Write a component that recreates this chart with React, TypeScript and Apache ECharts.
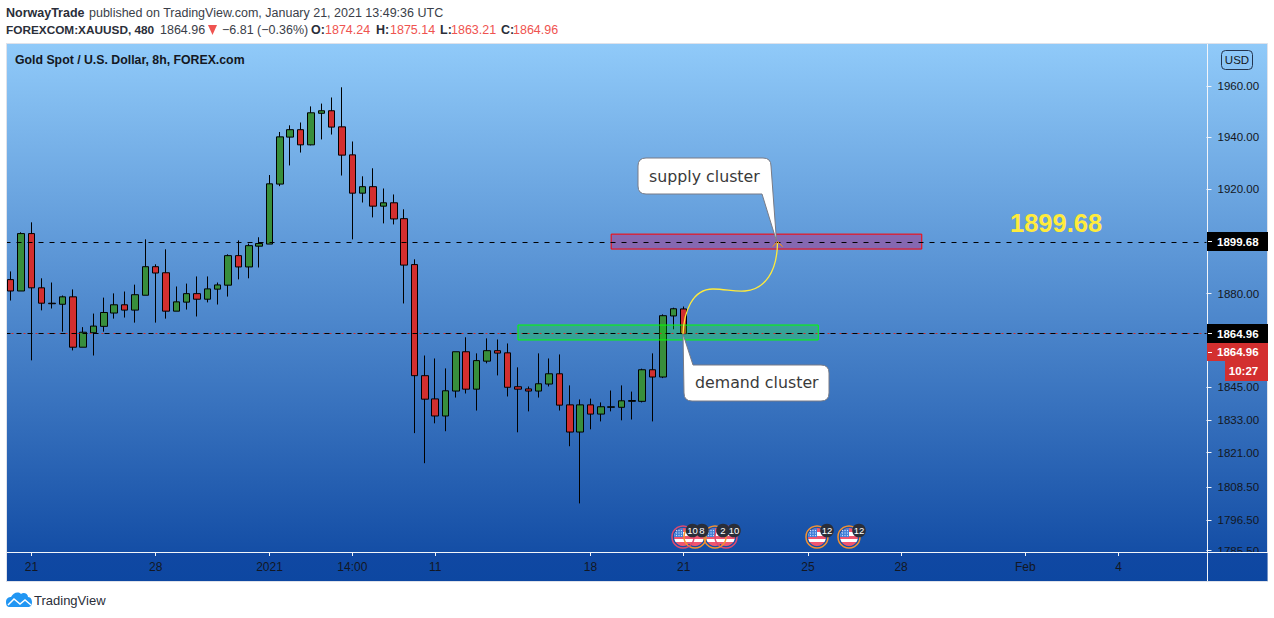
import React, { useEffect, useRef } from "react";
import * as echarts from "echarts";

// ---- series values ----
const opens = [1885.3,1881.0,1902.8,1882.2,1876.4,1876.0,1878.8,1859.9,1865.3,1867.7,1872.7,1875.8,1873.8,1879.4,1890.2,1887.9,1873.4,1876.8,1880.0,1877.9,1881.7,1883.2,1894.4,1890.1,1898.0,1898.8,1921.8,1940.0,1942.9,1937.0,1949.3,1950.3,1944.0,1933.1,1918.3,1920.8,1913.3,1914.6,1908.5,1891.0,1849.3,1840.7,1834.4,1843.6,1858.2,1844.3,1854.7,1858.6,1857.8,1845.2,1844.4,1843.6,1846.2,1850.0,1838.5,1828.5,1838.5,1835.1,1837.6,1837.6,1839.8,1839.8,1851.5,1848.8,1871.6,1874.24];
const closes = [1881.0,1902.8,1882.2,1876.4,1876.2,1878.8,1859.9,1865.5,1867.8,1872.9,1875.8,1873.8,1879.6,1890.2,1887.8,1873.4,1876.9,1880.0,1877.9,1881.8,1883.3,1894.4,1890.1,1898.2,1899.0,1921.9,1940.1,1942.9,1937.0,1949.5,1950.3,1943.9,1933.0,1918.3,1920.8,1913.3,1914.6,1908.4,1890.8,1849.3,1840.6,1834.4,1843.7,1858.2,1844.3,1854.9,1858.6,1857.7,1845.0,1844.3,1843.6,1846.3,1850.0,1838.4,1828.5,1838.5,1835.1,1837.8,1837.8,1840.0,1840.1,1851.5,1848.8,1871.7,1874.3,1864.96];
const lows = [1877.4,1881.0,1855.0,1873.7,1874.4,1865.7,1858.7,1859.9,1856.8,1865.7,1870.6,1871.0,1869.1,1879.4,1869.1,1870.6,1873.4,1874.0,1871.4,1876.7,1875.9,1878.9,1885.4,1885.8,1889.9,1898.8,1921.0,1929.0,1934.0,1936.8,1939.1,1941.0,1925.1,1900.6,1914.7,1909.0,1906.7,1906.3,1876.3,1828.1,1817.1,1831.7,1828.8,1841.2,1842.7,1836.4,1853.9,1849.4,1841.6,1828.4,1836.1,1841.2,1845.3,1836.4,1823.3,1802.5,1829.5,1832.4,1836.1,1832.8,1833.1,1839.4,1832.4,1848.4,1866.6,1863.21];
const highs = [1888.4,1903.3,1907.1,1885.8,1884.2,1879.3,1881.6,1867.4,1872.5,1878.5,1880.1,1880.8,1883.4,1900.6,1891.1,1896.8,1882.7,1883.8,1886.5,1886.5,1884.2,1894.9,1900.2,1899.0,1901.4,1925.3,1942.0,1944.6,1945.7,1952.0,1953.1,1955.5,1959.5,1938.3,1924.8,1927.9,1920.1,1917.8,1912.1,1893.0,1856.8,1855.7,1852.0,1858.2,1863.6,1857.6,1863.2,1862.8,1861.3,1852.4,1845.3,1857.6,1855.7,1857.2,1845.7,1840.5,1840.8,1839.4,1843.8,1845.7,1843.4,1851.9,1857.6,1872.2,1874.7,1875.14];

const timeTickIndexes = [2, 14, 25, 33, 41, 56, 65, 77, 86, 98, 107];
const timeTickLabels = ["21", "28", "2021", "14:00", "11", "18", "21", "25", "28", "Feb", "4"];
const priceTicks = [1960, 1940, 1920, 1880, 1845, 1833, 1821, 1808.5, 1796.5, 1785.5];
const priceMin = 1785.0;
const priceMax = 1976.6;
const supplyZone = { from: 58, to: 88, top: 1902.6, bottom: 1896.9 };
const demandZone = { from: 49, to: 78, top: 1868.2, bottom: 1862.6 };
const keyLevel = 1899.68;
const lastPrice = 1864.96;

const eventMarks = [
  { x: 695, ring: "#f5922f", badge: "8", badgeX: 702 },
  { x: 683, ring: "#e04a6e", badge: "10", badgeX: 692.5 },
  { x: 726, ring: "#e04a6e", badge: "10", badgeX: 734 },
  { x: 715, ring: "#f5922f", badge: "2", badgeX: 723 },
  { x: 817, ring: "#f5922f", badge: "12", badgeX: 827 },
  { x: 849, ring: "#f5922f", badge: "12", badgeX: 859 },
];

const FONT = '"Liberation Sans", Arial, sans-serif';
const WIDE = '"DejaVu Sans", Verdana, sans-serif';
const DARK = "#131722";
const RED = "#D32F2F";

const CURVE = "M683 334 C684 312 692 289 713 289 C725 289 735 292 745 291 C765 289 777 272 777.5 243";
const SUPPLY_CALLOUT = "M646 158 H763 Q771 158 771 166 L776.5 241 L762 194 H646 Q638 194 638 186 V166 Q638 158 646 158 Z";
const DEMAND_CALLOUT = "M693 365 H821 Q829 365 829 373 V393 Q829 401 821 401 H692 Q684 401 684 393 L683 334 Z";
const CLOUD = "M6 602 C6 598 9 597 11 597 C13 593 18 591 21 594 C23 592 28 593 28 597 C31 597 32 600 32 602 C32 606 30 607 28 607 H10 C7 607 6 605 6 602 Z";

echarts.graphic.registerShape("rsCurve", echarts.graphic.extendPath(CURVE, {}));
echarts.graphic.registerShape("rsSupply", echarts.graphic.extendPath(SUPPLY_CALLOUT, {}));
echarts.graphic.registerShape("rsDemand", echarts.graphic.extendPath(DEMAND_CALLOUT, {}));
echarts.graphic.registerShape("rsCloud", echarts.graphic.extendPath(CLOUD, {}));

function txt(x: number, y: number, text: string, font: string, fill: string, z: number, align = "left", family = FONT) {
  return {
    type: "text", x, y, z, silent: true,
    style: { text, fill, font: `${font} ${family}`, textAlign: align, textVerticalAlign: "middle" },
  };
}
function rect(x: number, y: number, w: number, h: number, fill: any, z: number, extra: any = {}) {
  return { type: "rect", z, silent: true, shape: { x, y, width: w, height: h, ...(extra.shape || {}) }, style: { fill, ...(extra.style || {}) } };
}
function hline(x1: number, x2: number, y: number, stroke: string, z: number, lineWidth = 1) {
  return { type: "line", z, silent: true, shape: { x1, y1: y, x2, y2: y }, style: { stroke, lineWidth } };
}

function buildGraphics() {
  const bg = new echarts.graphic.LinearGradient(0, 0, 0, 1, [
    { offset: 0, color: "#90CAF9" },
    { offset: 1, color: "#0D47A1" },
  ]);
  const band = new echarts.graphic.LinearGradient(0, 0, 0, 1, [
    { offset: 0, color: "#1048A3" },
    { offset: 1, color: "#0D47A1" },
  ]);
  const els: any[] = [
    rect(6.5, 43.5, 1261, 538, bg, -10, { style: { stroke: "#dfe2ea", lineWidth: 1 } }),
    rect(7, 552, 1260.5, 29, band, 10),
    rect(0, 44, 6, 540, "#ffffff", 30),
    { type: "line", z: 31, silent: true, shape: { x1: 6.5, y1: 43, x2: 6.5, y2: 582 }, style: { stroke: "#dfe2ea", lineWidth: 1 } },
    hline(7, 1268, 552.5, "#f2f5fa", 11),
    { type: "line", z: 11, silent: true, shape: { x1: 1207.5, y1: 44, x2: 1207.5, y2: 581 }, style: { stroke: "#f2f5fa", lineWidth: 1 } },
    rect(1221.5, 50.5, 31, 19, "transparent", 12, { shape: { r: 4 }, style: { stroke: "#22344f", lineWidth: 1 } }),
    txt(1237, 60, "USD", "11.5px", DARK, 13, "center"),
    txt(6, 13, "NorwayTrade", "bold 12.5px", "#2a2e39", 5),
    txt(89, 13, "published on TradingView.com, January 21, 2021 13:49:36 UTC", "12.5px", "#3a3e49", 5),
    txt(6, 30, "FOREXCOM:XAUUSD, 480", "bold 11.8px", "#2a2e39", 5),
    txt(160, 30, "1864.96", "12.5px", "#3a3e49", 5),
    { type: "polygon", z: 5, silent: true, shape: { points: [[208, 25], [217, 25], [212.5, 35]] }, style: { fill: "#ef5350" } },
    txt(222, 30, "−6.81 (−0.36%)", "12.5px", "#3a3e49", 5),
    txt(311, 30, "O:", "bold 12.5px", "#2a2e39", 5),
    txt(325, 30, "1874.24", "12.5px", "#ef5350", 5),
    txt(376, 30, "H:", "bold 12.5px", "#2a2e39", 5),
    txt(390, 30, "1875.14", "12.5px", "#ef5350", 5),
    txt(440, 30, "L:", "bold 12.5px", "#2a2e39", 5),
    txt(451, 30, "1863.21", "12.5px", "#ef5350", 5),
    txt(501, 30, "C:", "bold 12.5px", "#2a2e39", 5),
    txt(513, 30, "1864.96", "12.5px", "#ef5350", 5),
    txt(15, 60, "Gold Spot / U.S. Dollar, 8h, FOREX.com", "bold 12.3px", DARK, 12),
    txt(1010, 223, "1899.68", "bold 25.5px", "#FFEB3B", 12),
    // price tags
    rect(1207, 232, 61, 19, "#000000", 15),
    hline(1208, 1212, 241.5, "#ffffff", 16),
    txt(1217, 241.5, "1899.68", "bold 11.5px", "#ffffff", 16),
    rect(1207, 324, 61, 19, "#000000", 15),
    hline(1208, 1212, 333.5, "#ffffff", 16),
    txt(1217, 333.5, "1864.96", "bold 11.5px", "#ffffff", 16),
    rect(1207, 343, 61, 18, RED, 15),
    hline(1208, 1212, 352.5, "#ffffff", 16),
    txt(1217, 352, "1864.96", "bold 11.5px", "#ffffff", 16),
    rect(1225, 361, 43, 20, RED, 15),
    txt(1243.5, 371, "10:27", "bold 11.5px", "#ffffff", 16, "center"),
    // annotations
    { type: "rsCurve", z: 20, silent: true, style: { fill: "none", stroke: "#FFEB3B", lineWidth: 1.3 } },
    { type: "rsDemand", z: 21, silent: true, style: { fill: "#ffffff", stroke: "#787B86", lineWidth: 1 } },
    { type: "rsSupply", z: 21, silent: true, style: { fill: "#ffffff", stroke: "#787B86", lineWidth: 1 } },
    txt(649, 176, "supply cluster", "15.8px", "#3a3a3a", 22, "left", WIDE),
    txt(695, 382.5, "demand cluster", "15.8px", "#3a3a3a", 22, "left", WIDE),
    { type: "polyline", z: 23, silent: true, shape: { points: [[772.7, 246.7], [777.5, 241.5], [782.7, 246.7]] }, style: { stroke: "#FF9800", fill: "none", lineWidth: 1 } },
    // footer
    { type: "rsCloud", z: 5, silent: true, style: { fill: "#2196F3" } },
    { type: "polyline", z: 6, silent: true, shape: { points: [[8, 605], [14, 599], [20, 604], [25, 600], [31, 605]] }, style: { stroke: "#ffffff", fill: "none", lineWidth: 1.5 } },
    txt(34, 600, "TradingView", "13px", "#2a2e39", 5),
  ];

  // economic event markers
  const stripes = new echarts.graphic.LinearGradient(0, 0, 0, 1, [
    { offset: 0, color: "#f0566f" }, { offset: 0.25, color: "#f0566f" },
    { offset: 0.25, color: "#ffffff" }, { offset: 0.45, color: "#ffffff" },
    { offset: 0.45, color: "#f0566f" }, { offset: 0.63, color: "#f0566f" },
    { offset: 0.63, color: "#ffffff" }, { offset: 0.8, color: "#ffffff" },
    { offset: 0.8, color: "#f0566f" }, { offset: 1, color: "#f0566f" },
  ]);
  eventMarks.forEach((m, i) => {
    const z = 24 + i * 0.01;
    els.push({ type: "circle", z, silent: true, shape: { cx: m.x, cy: 537, r: 9 }, style: { fill: stripes } });
    els.push({ type: "sector", z, silent: true, shape: { cx: m.x, cy: 537, r: 9, r0: 0, startAngle: Math.PI, endAngle: Math.PI * 1.5 }, style: { fill: "#3f7fd8" } });
    for (let a = 0; a < 3; a++) {
      for (let b = 0; b < 3; b++) {
        els.push({ type: "circle", z, silent: true, shape: { cx: m.x - 6.5 + a * 2.5, cy: 530.5 + b * 2.5, r: 0.6 }, style: { fill: "#cfe2fb" } });
      }
    }
  });
  eventMarks.forEach((m) => {
    els.push({ type: "circle", z: 25, silent: true, shape: { cx: m.x, cy: 537, r: 11 }, style: { fill: "none", stroke: m.ring, lineWidth: 1.5 } });
  });
  eventMarks.forEach((m) => {
    els.push({ type: "circle", z: 26, silent: true, shape: { cx: m.badgeX, cy: 530.5, r: 6.8 }, style: { fill: "#2a2e39" } });
    els.push(txt(m.badgeX, 530.5, m.badge, "9.5px", "#ffffff", 27, "center"));
  });
  return els;
}

export default function App() {
  const ref = useRef<HTMLDivElement>(null);
  useEffect(() => {
    document.body.style.margin = "0";
    const chart = echarts.init(ref.current!, null, { renderer: "svg" });
    const categories = Array.from({ length: 116 }, (_, i) => {
      const at = timeTickIndexes.indexOf(i);
      return at >= 0 ? timeTickLabels[at] : "";
    });
    const candles = opens.map((o, i) => [o, closes[i], lows[i], highs[i]]);
    chart.setOption({
      animation: false,
      backgroundColor: "#ffffff",
      grid: { left: 5.5, width: 1201, top: 44, height: 508, containLabel: false },
      xAxis: {
        type: "category",
        data: categories,
        z: 20,
        axisLine: { show: false },
        axisTick: {
          show: true, length: 4, alignWithLabel: true,
          interval: (i: number) => timeTickIndexes.indexOf(i) >= 0,
          lineStyle: { color: "#f2f5fa", width: 1 },
        },
        axisLabel: {
          interval: (i: number) => timeTickIndexes.indexOf(i) >= 0,
          color: DARK, fontFamily: FONT, fontSize: 12, margin: 9, hideOverlap: false,
        },
        splitLine: { show: false },
      },
      yAxis: {
        type: "log",
        logBase: 10,
        position: "right",
        min: priceMin,
        max: priceMax,
        z: 5,
        axisLine: { show: false },
        axisTick: { show: true, length: 5, customValues: priceTicks, lineStyle: { color: "#f2f5fa", width: 1 } },
        axisLabel: {
          customValues: priceTicks,
          formatter: (v: number) => Number(v).toFixed(2),
          color: DARK, fontFamily: FONT, fontSize: 11.5, margin: 11, hideOverlap: false,
          showMinLabel: true, showMaxLabel: true,
        },
        splitLine: { show: false },
        minorTick: { show: false },
      },
      graphic: { elements: buildGraphics() },
      series: [
        {
          type: "candlestick",
          data: candles,
          barWidth: 7,
          itemStyle: {
            color: "#388E3C", color0: RED,
            borderColor: "#000000", borderColor0: "#000000", borderColorDoji: "#000000", borderWidth: 1,
          },
          markArea: {
            silent: true, z: 6,
            label: { show: false },
            data: [
              [
                { xAxis: supplyZone.from, yAxis: supplyZone.top, itemStyle: { color: "rgba(190,30,120,0.4)", borderColor: "#ff0000", borderWidth: 1, opacity: 1 } },
                { xAxis: supplyZone.to, yAxis: supplyZone.bottom },
              ],
              [
                { xAxis: demandZone.from, yAxis: demandZone.top, itemStyle: { color: "rgba(0,255,0,0.25)", borderColor: "#00ff00", borderWidth: 1, opacity: 1 } },
                { xAxis: demandZone.to, yAxis: demandZone.bottom },
              ],
            ],
          },
          markLine: {
            silent: true, symbol: "none", z: 7,
            label: { show: false },
            data: [
              { yAxis: lastPrice, lineStyle: { color: "#D32F2F", type: [2, 4], width: 1 } },
              { yAxis: lastPrice, lineStyle: { color: "#000000", type: [5, 6], width: 1 } },
              { yAxis: keyLevel, lineStyle: { color: "#000000", type: [5, 6], width: 1 } },
            ],
          },
        },
      ],
    });
    return () => chart.dispose();
  }, []);
  return <div ref={ref} style={{ position: "absolute", left: 0, top: 0, width: 1274, height: 618 }} />;
}
